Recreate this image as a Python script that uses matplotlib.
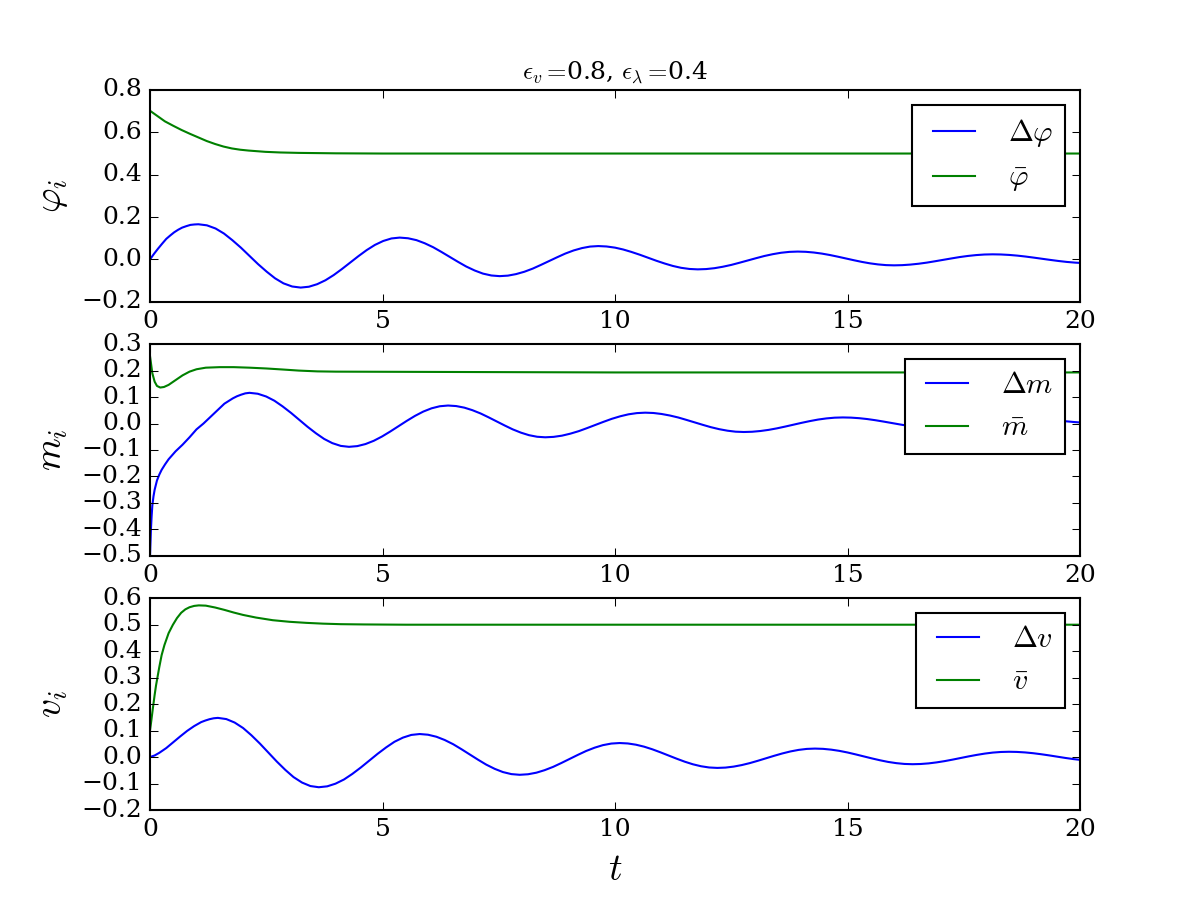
import matplotlib
matplotlib.use('Agg')
import matplotlib.pyplot as plt

# values (t, value) for each curve
t_dphi = [0.0, 0.085, 0.17, 0.26, 0.35, 0.435, 0.52, 0.605, 0.69, 0.78, 0.87, 0.955,
          1.04, 1.223, 1.41, 1.59, 1.77, 1.957, 2.14, 2.323, 2.51, 2.69, 2.87, 3.057,
          3.24, 3.4175, 3.595, 3.7725, 3.95, 4.1275, 4.305, 4.4825, 4.66, 4.8375, 5.015, 5.1925,
          5.37, 5.549, 5.73, 5.907, 6.09, 6.266, 6.445, 6.624, 6.80, 6.983, 7.16, 7.341,
          7.52, 7.697, 7.87, 8.05, 8.23, 8.403, 8.58, 8.757, 8.93, 9.11, 9.29, 9.463,
          9.64, 9.818, 10.0, 10.175, 10.35, 10.532, 10.71, 10.888, 11.07, 11.245, 11.42, 11.602,
          11.78, 11.959, 12.14, 12.317, 12.50, 12.676, 12.855, 13.034, 13.21, 13.393, 13.57, 13.751,
          13.93, 14.1025, 14.275, 14.4475, 14.62, 14.7925, 14.965, 15.1375, 15.31, 15.4825, 15.655, 15.8275,
          16.0, 16.177, 16.35, 16.53, 16.71, 16.883, 17.06, 17.237, 17.41, 17.59, 17.77, 17.943,
          18.12, 18.2975, 18.475, 18.6525, 18.83, 19.0075, 19.185, 19.3625, 19.54, 19.7175, 19.895, 20.0]
dphi = [0.0, 0.026, 0.05, 0.074, 0.097, 0.113, 0.128, 0.140, 0.150, 0.157, 0.163, 0.165,
        0.166, 0.161, 0.146, 0.1223, 0.091, 0.0551, 0.0165, -0.0221, -0.058, -0.0893, -0.113, -0.1279,
        -0.133, -0.129, -0.117, -0.0985, -0.074, -0.0454, -0.015, 0.0154, 0.044, 0.0685, 0.087, 0.099,
        0.103, 0.0999, 0.091, 0.0764, 0.0575, 0.0355, 0.012, -0.0115, -0.0335, -0.0524, -0.067, -0.0759,
        -0.079, -0.0766, -0.0695, -0.0583, -0.0435, -0.0263, -0.008, 0.0103, 0.0275, 0.0423, 0.0535, 0.0606,
        0.063, 0.0611, 0.0556, 0.0469, 0.0355, 0.0222, 0.008, -0.0062, -0.0195, -0.0309, -0.0396, -0.0451,
        -0.047, -0.0456, -0.0414, -0.0347, -0.026, -0.0158, -0.005, 0.0058, 0.016, 0.0247, 0.0314, 0.0356,
        0.037, 0.0359, 0.0326, 0.0275, 0.0208, 0.0129, 0.0045, -0.0039, -0.0118, -0.0185, -0.0236, -0.0269,
        -0.028, -0.0271, -0.0245, -0.0204, -0.015, -0.0087, -0.002, 0.0047, 0.011, 0.0164, 0.0205, 0.0231,
        0.024, 0.0233, 0.0212, 0.0179, 0.0135, 0.0084, 0.003, -0.0024, -0.0075, -0.0119, -0.0152, -0.0165]

t_phibar = [0.0, 0.16, 0.32, 0.5, 0.68, 0.86, 1.04, 1.22, 1.4, 1.58, 1.76, 1.94, 2.12, 2.48,
            2.8, 3.2, 3.6, 4.0, 5.0, 10.0, 15.0, 20.0]
phibar = [0.702, 0.677, 0.652, 0.631, 0.611, 0.593, 0.576, 0.559, 0.545, 0.533, 0.524, 0.518, 0.514, 0.508,
          0.505, 0.503, 0.502, 0.501, 0.500, 0.500, 0.500, 0.500]

t_dm = [0.0, 0.01, 0.02, 0.035, 0.05, 0.075, 0.1, 0.15, 0.2, 0.25, 0.325, 0.4, 0.55, 0.7, 0.85,
        1.0, 1.15, 1.3, 1.45, 1.6, 1.78, 1.87, 1.96, 2.05,
        2.14, 2.318, 2.50, 2.675, 2.85, 3.032, 3.21, 3.388, 3.57, 3.745, 3.92, 4.102,
        4.28, 4.4575, 4.635, 4.8125, 4.99, 5.1675, 5.345, 5.5225, 5.70, 5.8775, 6.055, 6.2325,
        6.41, 6.584, 6.76, 6.932, 7.11, 7.281, 7.455, 7.629, 7.80, 7.978, 8.15, 8.326,
        8.5, 8.679, 8.86, 9.037, 9.22, 9.396, 9.575, 9.754, 9.93, 10.113, 10.29, 10.471,
        10.65, 10.827, 11.0, 11.18, 11.36, 11.533, 11.71, 11.887, 12.06, 12.24, 12.42, 12.593,
        12.77, 12.9475, 13.125, 13.3025, 13.48, 13.6575, 13.835, 14.0125, 14.19, 14.3675, 14.545, 14.7225,
        14.9, 15.075, 15.25, 15.425, 15.6, 15.775, 15.95, 16.125, 16.3, 16.475, 16.65, 16.825,
        17.0, 17.179, 17.36, 17.537, 17.72, 17.896, 18.075, 18.254, 18.43, 18.613, 18.79, 18.971,
        19.15, 19.33, 19.5, 19.68, 19.85, 20.0]
dm = [-0.5, -0.45, -0.40, -0.35, -0.31, -0.275, -0.25, -0.215, -0.193, -0.175, -0.154, -0.135, -0.105, -0.08, -0.052,
      -0.022, 0.0, 0.025, 0.05, 0.075, 0.095, 0.103, 0.109, 0.114,
      0.116, 0.1125, 0.102, 0.0862, 0.065, 0.0403, 0.014, -0.0123, -0.037, -0.0582, -0.074, -0.0845,
      -0.088, -0.0853, -0.0775, -0.0652, -0.049, -0.0301, -0.010, 0.0101, 0.029, 0.0452, 0.0575, 0.0653,
      0.068, 0.066, 0.060, 0.0505, 0.038, 0.0235, 0.008, -0.0075, -0.022, -0.0345, -0.044, -0.050,
      -0.052, -0.0504, -0.0458, -0.0384, -0.0288, -0.0175, -0.0055, 0.0065, 0.0177, 0.0274, 0.0348, 0.0394,
      0.041, 0.0398, 0.0361, 0.0303, 0.0228, 0.0139, 0.0045, -0.0049, -0.0137, -0.0213, -0.0271, -0.0308,
      -0.032, -0.0311, -0.0283, -0.024, -0.0183, -0.0116, -0.0045, 0.0026, 0.0092, 0.015, 0.0193, 0.0221,
      0.023, 0.0223, 0.0202, 0.0169, 0.0125, 0.0074, 0.002, -0.0034, -0.0085, -0.0129, -0.0162, -0.0183,
      -0.019, -0.0185, -0.0169, -0.0143, -0.011, -0.0071, -0.003, 0.0011, 0.005, 0.0083, 0.0109, 0.0125,
      0.013, 0.0125, 0.011, 0.0088, 0.006, 0.004]

t_mbar = [0.0, 0.05, 0.1, 0.15, 0.22, 0.3, 0.4, 0.55, 0.7, 0.85, 1.0, 1.2, 1.5, 1.8, 2.14, 2.5, 2.86,
          3.2, 3.6, 4.0, 6.0, 8.0, 10.0, 15.0, 20.0]
mbar = [0.255, 0.19, 0.158, 0.142, 0.136, 0.138, 0.146, 0.164, 0.182, 0.196, 0.205, 0.211, 0.213, 0.213,
        0.211, 0.208, 0.204, 0.200, 0.197, 0.196, 0.195, 0.194, 0.193, 0.193, 0.193]

t_dv = [0.0, 0.1, 0.2, 0.35, 0.5, 0.65, 0.8, 0.95, 1.1, 1.19, 1.28, 1.37,
        1.46, 1.641, 1.82, 2.002, 2.18, 2.364, 2.545, 2.726, 2.91, 3.087, 3.27, 3.449,
        3.63, 3.811, 3.99, 4.172, 4.35, 4.534, 4.715, 4.896, 5.08, 5.257, 5.44, 5.619,
        5.8, 5.979, 6.16, 6.337, 6.52, 6.696, 6.875, 7.054, 7.23, 7.413, 7.59, 7.771,
        7.95, 8.129, 8.31, 8.487, 8.67, 8.846, 9.025, 9.204, 9.38, 9.563, 9.74, 9.921,
        10.1, 10.275, 10.45, 10.625, 10.8, 10.975, 11.15, 11.325, 11.5, 11.675, 11.85, 12.025,
        12.2, 12.375, 12.55, 12.725, 12.9, 13.075, 13.25, 13.425, 13.6, 13.775, 13.95, 14.125,
        14.3, 14.475, 14.65, 14.825, 15.0, 15.175, 15.35, 15.525, 15.7, 15.875, 16.05, 16.225,
        16.4, 16.5725, 16.745, 16.9175, 17.09, 17.2625, 17.435, 17.6075, 17.78, 17.9525, 18.125, 18.2975,
        18.47, 18.643, 18.82, 18.99, 19.16, 19.337, 19.51, 19.683, 19.86, 20.0]
dv = [0.0, 0.006, 0.016, 0.034, 0.056, 0.078, 0.099, 0.117, 0.132, 0.138, 0.143, 0.1465,
      0.148, 0.1435, 0.1304, 0.1097, 0.0825, 0.0508, 0.017, -0.0168, -0.0485, -0.0757, -0.0964, -0.1095,
      -0.114, -0.1106, -0.1005, -0.0847, -0.0638, -0.0394, -0.0135, 0.0124, 0.0367, 0.0577, 0.0735, 0.0836,
      0.087, 0.0844, 0.0767, 0.0645, 0.0485, 0.0299, 0.010, -0.0099, -0.0285, -0.0445, -0.0567, -0.0644,
      -0.067, -0.065, -0.059, -0.0495, -0.037, -0.0225, -0.007, 0.0085, 0.023, 0.0355, 0.045, 0.051,
      0.053, 0.0514, 0.0467, 0.0393, 0.0295, 0.0181, 0.006, -0.0061, -0.0175, -0.0273, -0.0347, -0.0394,
      -0.041, -0.0398, -0.0361, -0.0303, -0.0228, -0.0139, -0.0045, 0.0049, 0.0137, 0.0213, 0.0271, 0.0308,
      0.032, 0.031, 0.028, 0.0234, 0.0173, 0.0101, 0.0025, -0.0051, -0.0122, -0.0184, -0.023, -0.026,
      -0.027, -0.0262, -0.0239, -0.0201, -0.0153, -0.0096, -0.0035, 0.0026, 0.0082, 0.0131, 0.0169, 0.0192,
      0.02, 0.0194, 0.0175, 0.0146, 0.0108, 0.0063, 0.0015, -0.0033, -0.0077, -0.0105]

t_vbar = [0.0, 0.03, 0.06, 0.1, 0.13, 0.2, 0.25, 0.31, 0.4, 0.49, 0.58, 0.67, 0.76, 0.85, 0.95, 1.05,
          1.2, 1.4, 1.6, 1.8, 2.0, 2.28, 2.64, 3.0, 3.36, 3.72, 4.1, 4.6, 5.5, 10.0, 15.0, 20.0]
vbar = [0.1, 0.14, 0.182, 0.235, 0.271, 0.34, 0.385, 0.423, 0.468, 0.499, 0.525, 0.545, 0.558, 0.566,
        0.571, 0.573, 0.572, 0.565, 0.556, 0.546, 0.537, 0.527, 0.517, 0.511, 0.507, 0.504, 0.502, 0.501,
        0.500, 0.500, 0.500, 0.500]

plt.style.use('classic')
plt.rcParams['font.family'] = 'serif'
plt.rcParams['mathtext.fontset'] = 'cm'

fig = plt.figure(figsize=(8, 6), dpi=150)

# phi
ax1 = plt.subplot(3, 1, 1)
plt.plot(t_dphi, dphi, 'b', label=r'$\Delta\varphi$')
plt.plot(t_phibar, phibar, 'g', label=r'$\bar{\varphi}$')
plt.xlim(0, 20)
plt.ylim(-0.2, 0.8)
plt.ylabel(r'$\varphi_i$', fontsize=18)
plt.title(r'$\epsilon_v=\!$0.8, $\epsilon_\lambda=\!$0.4', fontsize=12)
plt.legend(loc='upper right')

# m
ax2 = plt.subplot(3, 1, 2)
plt.plot(t_dm, dm, 'b', label=r'$\Delta m$')
plt.plot(t_mbar, mbar, 'g', label=r'$\bar{m}$')
plt.xlim(0, 20)
plt.ylim(-0.5, 0.3)
plt.ylabel(r'$m_i$', fontsize=18)
plt.legend(loc='upper right')

# v
ax3 = plt.subplot(3, 1, 3)
plt.plot(t_dv, dv, 'b', label=r'$\Delta v$')
plt.plot(t_vbar, vbar, 'g', label=r'$\bar{v}$')
plt.xlim(0, 20)
plt.ylim(-0.2, 0.6)
plt.ylabel(r'$v_i$', fontsize=18)
plt.xlabel(r'$t$', fontsize=18)
plt.legend(loc='upper right')

plt.savefig('out.png', dpi=150)
